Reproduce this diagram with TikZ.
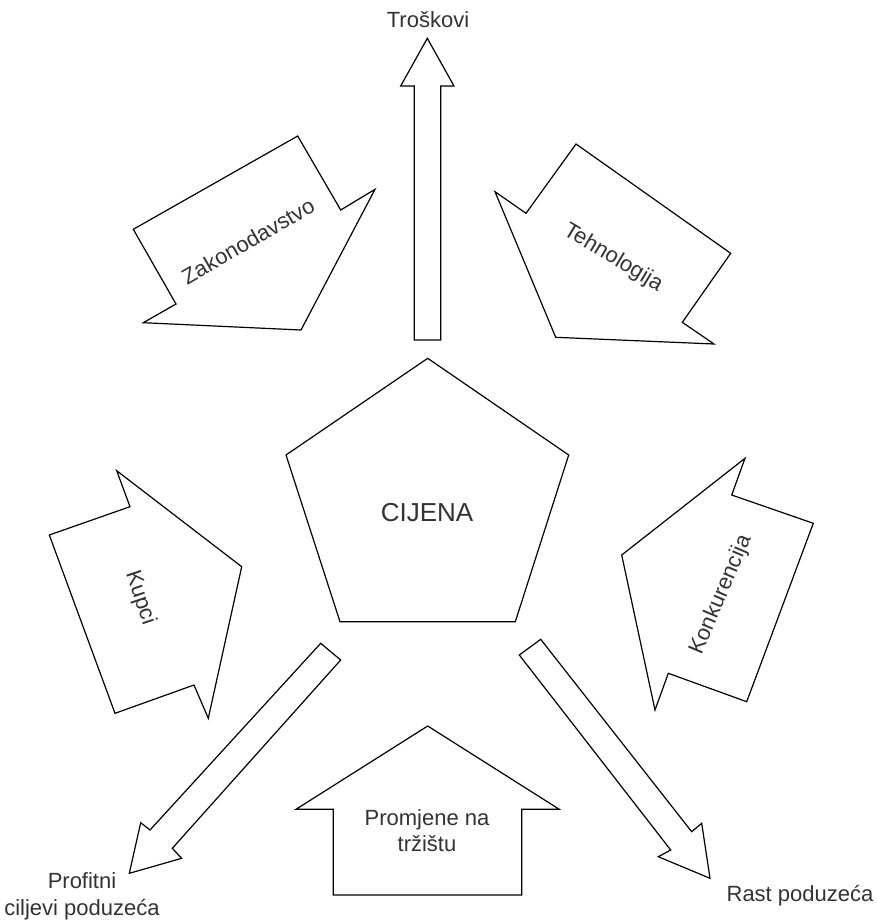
\documentclass[tikz,border=0pt]{standalone}
\usepackage{fontspec}
\setmainfont{Liberation Sans}
\definecolor{txt}{HTML}{333333}
\begin{document}
\begin{tikzpicture}[x=1pt,y=-1pt,
  blockshape/.style={draw=black,line width=1.2pt,line join=miter,fill=white},
  lbl/.style={text=txt,font=\fontsize{22}{26.5}\selectfont,inner sep=0pt,align=center}]
\useasboundingbox[fill=white] (0,0) rectangle (877,922);
% central pentagon
\draw[blockshape] (427.7,358.3) -- (568.7,455) -- (515.3,621.7) -- (340,621.7) -- (286,455) -- cycle;
\node[lbl,font=\fontsize{26}{30}\selectfont,anchor=base] (cijena) at (427,521.7) {CIJENA};
% Troskovi arrow
\draw[blockshape] (414.3,340) -- (414.3,86) -- (400.7,86) -- (427.3,38.3) -- (454,86) -- (440.7,86) -- (440.7,340) -- cycle;
\node[lbl,anchor=base] (troskovi) at (428,27) {Troškovi};
% Zakonodavstvo
\draw[blockshape] (133.3,229.3) -- (297.7,136) -- (340.7,210) -- (375,189.3) -- (301,330) -- (143.3,322.7) -- (176,304) -- cycle;
\node[lbl,rotate=30] (zakon) at (248,241) {Zakonodavstvo};
% Tehnologija
\draw[blockshape] (576,144) -- (730.7,253.3) -- (682.3,322.3) -- (714,344) -- (555.7,337.3) -- (495,191.7) -- (526,213.3) -- cycle;
\node[lbl,rotate=-31] (tehno) at (613,258) {Tehnologija};
% Kupci
\draw[blockshape] (116.7,470.7) -- (241.7,566.7) -- (208.3,718.3) -- (194,685) -- (115,713.3) -- (49.3,535) -- (130,506.7) -- cycle;
\node[lbl,rotate=-71.5] (kupci) at (140,598) {Kupci};
% Konkurencija
\draw[blockshape] (745,458.3) -- (731.7,495) -- (813.3,523.3) -- (746.7,701.7) -- (668.3,673.3) -- (655,710) -- (621.7,555) -- cycle;
\node[lbl,rotate=67] (konk) at (721,595) {Konkurencija};
% Promjene na trzistu
\draw[blockshape] (427.7,726) -- (559.3,809.3) -- (521.7,809.3) -- (521.7,895) -- (333.3,895) -- (333.3,809.3) -- (296,809.3) -- cycle;
\node[lbl] (promjene) at (427,830.5) {Promjene na\\tržištu};
% Profitni arrow
\draw[blockshape] (320.7,643.3) -- (340.7,660) -- (172.3,848.3) -- (181.7,858.3) -- (129.3,873.3) -- (140.7,822.7) -- (150,830) -- cycle;
\node[lbl] (profit) at (82,896.4) {Profitni\\ciljevi poduzeća};
% Rast arrow
\draw[blockshape] (540.7,639.3) -- (519.3,655) -- (670.7,850) -- (658.3,856.7) -- (710,878.3) -- (701.7,823.3) -- (691.7,831.7) -- cycle;
\node[lbl,anchor=base] (rast) at (800,901.7) {Rast poduzeća};
\end{tikzpicture}
\end{document}
